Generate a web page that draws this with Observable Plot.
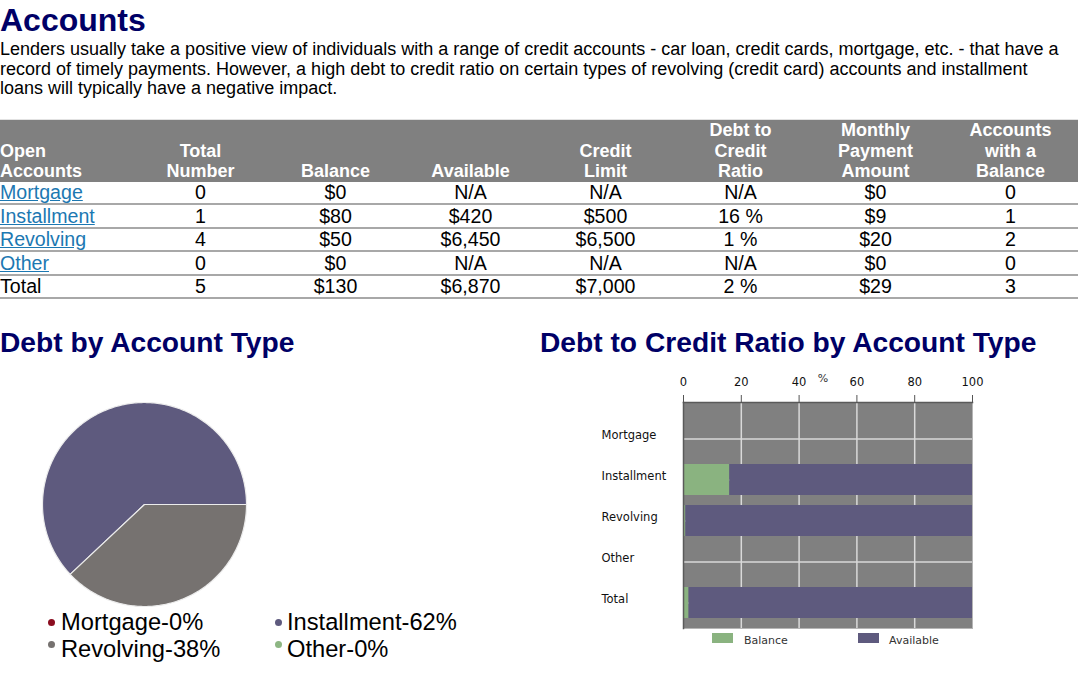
<!DOCTYPE html>
<html>
<head>
<meta charset="utf-8">
<script src="https://cdn.jsdelivr.net/npm/d3@7"></script>
<script src="https://cdn.jsdelivr.net/npm/@observablehq/plot@0.6"></script>
<style>
  html, body { margin: 0; padding: 0; background: #fff; }
  body { width: 1079px; height: 674px; position: relative; overflow: hidden; font-family: "Liberation Sans", Arial, sans-serif; color: #000; }
  .abs { position: absolute; white-space: nowrap; }
  h1.title { position: absolute; left: 0; top: 4px; margin: 0; font-size: 32px; line-height: 32px; font-weight: bold; color: #000066; }
  .para { position: absolute; left: 0; top: 40px; font-size: 18px; line-height: 19.7px; white-space: nowrap; }
  .sec { position: absolute; margin: 0; font-size: 28.2px; line-height: 28px; font-weight: bold; color: #000066; white-space: nowrap; }
  table.acc { position: absolute; left: 0; top: 119px; border-collapse: collapse; table-layout: fixed; width: 1078px; border-top: 1px solid #e2e2e2; }
  table.acc th { background: #808080; color: #fff; font-size: 18px; line-height: 20.5px; font-weight: bold; vertical-align: bottom; padding: 0; height: 61px; text-align: center; }
  table.acc th:first-child { text-align: left; }
  table.acc td { font-size: 19.6px; line-height: 20.5px; padding: 0.5px 0 0.5px 0; border-bottom: 2px solid #a8a8a8; text-align: center; }
  table.acc td:first-child { text-align: left; }
  table.acc a { color: #1c78b2; text-decoration: underline; }
  .pieleg { position: absolute; font-size: 23.7px; line-height: 26px; white-space: nowrap; }
  .dot { position: absolute; width: 7px; height: 7px; border-radius: 50%; }
  .barleg { position: absolute; font-family: "DejaVu Sans", sans-serif; font-size: 11px; color: #333; white-space: nowrap; }
  .sw { position: absolute; width: 21px; height: 10px; }
</style>
</head>
<body>
<h1 class="title">Accounts</h1>
<div class="para">Lenders usually take a positive view of individuals with a range of credit accounts - car loan, credit cards, mortgage, etc. - that have a<br>record of timely payments. However, a high debt to credit ratio on certain types of revolving (credit card) accounts and installment<br>loans will typically have a negative impact.</div>
<div id="tablewrap"></div>
<h2 class="sec" style="left:0;top:328px;">Debt by Account Type</h2>
<h2 class="sec" style="left:540px;top:328px;">Debt to Credit Ratio by Account Type</h2>
<div id="pie" class="abs" style="left:0;top:380px;"></div>
<div id="pielegend"></div>
<div id="bar" class="abs" style="left:580px;top:365px;"></div>
<div id="barlegend"></div>
<script>
// ---------- Table data ----------
const tableHeaders = ["Open<br>Accounts", "Total<br>Number", "Balance", "Available", "Credit<br>Limit", "Debt to<br>Credit<br>Ratio", "Monthly<br>Payment<br>Amount", "Accounts<br>with a<br>Balance"];
const accountTypes = ["Mortgage", "Installment", "Revolving", "Other", "Total"];
const totalNumber = ["0", "1", "4", "0", "5"];
const balances = ["$0", "$80", "$50", "$0", "$130"];
const available = ["N/A", "$420", "$6,450", "N/A", "$6,870"];
const creditLimit = ["N/A", "$500", "$6,500", "N/A", "$7,000"];
const debtRatio = ["N/A", "16 %", "1 %", "N/A", "2 %"];
const monthlyPayment = ["$0", "$9", "$20", "$0", "$29"];
const withBalance = ["0", "1", "2", "0", "3"];

// ---------- Pie data ----------
const pieLabels = ["Mortgage", "Installment", "Revolving", "Other"];
const pieValues = [0, 62, 38, 0];
const pieColors = ["#8b0d1f", "#5e5a7e", "#767270", "#8db683"];

// ---------- Bar data ----------
const barCategories = ["Mortgage", "Installment", "Revolving", "Other", "Total"];
const balancePct = [0, 16, 0.8, 0, 1.9];
const availablePct = [0, 84, 99.2, 0, 98.1];
const barSeries = ["Balance", "Available"];
const barColors = ["#8ab380", "#5e5a7e"];
const xTicks = [0, 20, 40, 60, 80, 100];

// ---------- Table ----------
{
  const colW = [133, 135, 135, 135, 135, 135, 135, 135];
  let html = '<table class="acc"><colgroup>' + colW.map(w => `<col style="width:${w}px">`).join("") + '</colgroup><tr>';
  html += tableHeaders.map(h => `<th>${h}</th>`).join("") + "</tr>";
  accountTypes.forEach((t, i) => {
    const first = t === "Total" ? t : `<a href="#">${t}</a>`;
    html += `<tr><td>${first}</td><td>${totalNumber[i]}</td><td>${balances[i]}</td><td>${available[i]}</td><td>${creditLimit[i]}</td><td>${debtRatio[i]}</td><td>${monthlyPayment[i]}</td><td>${withBalance[i]}</td></tr>`;
  });
  html += "</table>";
  document.getElementById("tablewrap").innerHTML = html;
}

// ---------- Pie ----------
{
  const arcs = d3.pie().sort(null).value(d => d)
    .startAngle(Math.PI / 2).endAngle(Math.PI / 2 - 2 * Math.PI)(pieValues);
  const pts = [];
  arcs.forEach((a, i) => {
    if (pieValues[i] <= 0) return;
    const label = pieLabels[i];
    pts.push({label, x: 0, y: 0});
    const n = Math.max(2, Math.ceil(Math.abs(a.endAngle - a.startAngle) / (Math.PI / 180)));
    for (let k = 0; k <= n; k++) {
      const ang = a.startAngle + (a.endAngle - a.startAngle) * k / n;
      pts.push({label, x: Math.sin(ang), y: Math.cos(ang)});
    }
  });
  const pie = Plot.plot({
    width: 300, height: 250,
    marginLeft: 42, marginRight: 54, marginTop: 22, marginBottom: 24,
    x: {domain: [-1, 1], axis: null},
    y: {domain: [-1, 1], axis: null},
    color: {domain: pieLabels, range: pieColors},
    marks: [
      Plot.line(pts, {x: "x", y: "y", z: "label", fill: "label", stroke: "#ececec", strokeWidth: 1.2, curve: "linear-closed"})
    ]
  });
  document.getElementById("pie").appendChild(pie);

  // legend
  const pos = [[51, 61, 629, 622], [278, 287, 629, 622], [51, 61, 656, 644], [278, 287, 656, 644]];
  let lh = "";
  pieLabels.forEach((l, i) => {
    const [dx, tx, base, dy] = pos[i];
    lh += `<div class="dot" style="left:${dx - 3.5}px;top:${dy - 3.5}px;background:${pieColors[i]}"></div>`;
    lh += `<div class="pieleg" style="left:${tx}px;top:${base - 20}px">${l}-${pieValues[i]}%</div>`;
  });
  document.getElementById("pielegend").innerHTML = lh;
}

// ---------- Bar ----------
{
  const rows = [];
  barCategories.forEach((c, i) => {
    rows.push({category: c, series: barSeries[0], value: balancePct[i]});
    rows.push({category: c, series: barSeries[1], value: availablePct[i]});
  });
  const bar = Plot.plot({
    width: 420, height: 300,
    marginLeft: 103, marginRight: 28, marginTop: 37, marginBottom: 37,
    style: {fontFamily: "DejaVu Sans, sans-serif", fontSize: "11px", color: "#222", background: "transparent"},
    x: {domain: [0, 100]},
    y: {type: "band", domain: barCategories, paddingInner: 0.25, paddingOuter: 0.358, align: 0.67},
    color: {domain: barSeries, range: barColors},
    marks: [
      Plot.frame({fill: "#808080", stroke: "#b5b5b5"}),
      Plot.gridX({ticks: [20, 40, 60, 80], stroke: "#d9d9d9", strokeOpacity: 1, strokeWidth: 1.5}),
      Plot.gridY({stroke: "#d9d9d9", strokeOpacity: 1, strokeWidth: 1.5}),
      Plot.barX(rows, Plot.stackX({x: "value", y: "category", fill: "series", order: barSeries})),
      Plot.frame({anchor: "top", stroke: "#5a5a5a", strokeWidth: 1.5}),
      Plot.frame({anchor: "left", stroke: "#5a5a5a", strokeWidth: 1.5}),
      Plot.axisX({anchor: "top", ticks: xTicks, tickSize: 8, tickPadding: 9, label: null, stroke: "#555", fontSize: 11.5, fill: "#111"}),
      Plot.text(["%"], {frameAnchor: "top", dx: -5, dy: -28, fontSize: 11, fill: "#333"}),
      Plot.axisY({tickSize: 0, tickPadding: 0, textAnchor: "start", dx: -82, dy: -4, label: null, fontSize: 11.5, fill: "#111"})
    ]
  });
  document.getElementById("bar").appendChild(bar);

  const lpos = [[712, 744], [858, 889]];
  let lh = "";
  barSeries.forEach((s, i) => {
    lh += `<div class="sw" style="left:${lpos[i][0]}px;top:633px;background:${barColors[i]}"></div>`;
    lh += `<div class="barleg" style="left:${lpos[i][1]}px;top:634px">${s}</div>`;
  });
  document.getElementById("barlegend").innerHTML = lh;
}
</script>
</body>
</html>
